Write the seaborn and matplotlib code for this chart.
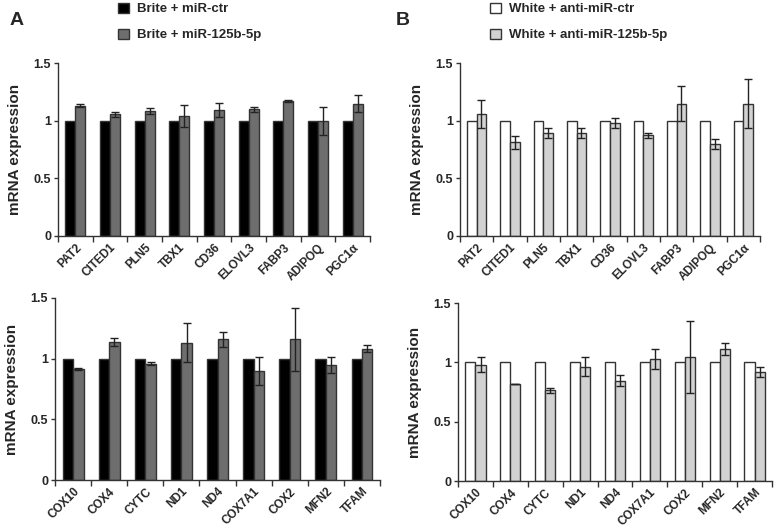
import numpy as np
import pandas as pd
import matplotlib
matplotlib.use("Agg")
import matplotlib.pyplot as plt
from matplotlib.patches import Patch
import seaborn as sns

# gene panels
genes_top = ["PAT2", "CITED1", "PLN5", "TBX1", "CD36", "ELOVL3", "FABP3", "ADIPOQ", "PGC1α"]
genes_bottom = ["COX10", "COX4", "CYTC", "ND1", "ND4", "COX7A1", "COX2", "MFN2", "TFAM"]

# A: brite adipocytes, miR-ctr vs miR-125b-5p
a_top_ctr = [1.0] * 9
a_top_mir = [1.13, 1.055, 1.087, 1.04, 1.093, 1.10, 1.17, 0.994, 1.148]
a_top_err = [0.013, 0.022, 0.025, 0.094, 0.058, 0.022, 0.012, 0.122, 0.074]
a_bot_ctr = [1.0] * 9
a_bot_mir = [0.915, 1.137, 0.959, 1.131, 1.158, 0.896, 1.158, 0.945, 1.082]
a_bot_err = [0.012, 0.036, 0.015, 0.16, 0.064, 0.115, 0.258, 0.067, 0.027]

# B: white adipocytes, anti-miR-ctr vs anti-miR-125b-5p
b_top_ctr = [1.0] * 9
b_top_mir = [1.055, 0.811, 0.895, 0.895, 0.98, 0.875, 1.148, 0.797, 1.148]
b_top_err = [0.122, 0.054, 0.045, 0.045, 0.04, 0.022, 0.15, 0.047, 0.21]
b_bot_ctr = [1.0] * 9
b_bot_mir = [0.98, 0.815, 0.765, 0.964, 0.846, 1.03, 1.045, 1.112, 0.919]
b_bot_err = [0.063, 0.0, 0.02, 0.08, 0.046, 0.083, 0.30, 0.049, 0.045]

labels_a = ["Brite + miR-ctr", "Brite + miR-125b-5p"]
labels_b = ["White + anti-miR-ctr", "White + anti-miR-125b-5p"]
colors_a = ["#000000", "#6e6e6e"]
colors_b = ["#ffffff", "#d2d2d2"]

sns.set_style("ticks")
plt.rcParams["font.family"] = ["Liberation Sans", "DejaVu Sans"]
plt.rcParams["font.weight"] = "bold"

fig = plt.figure(figsize=(7.75, 5.29), dpi=100)


def panel(rect, genes, ctr, mir, err, labels, colors):
    ax = fig.add_axes(rect)
    df = pd.DataFrame({
        "gene": genes * 2,
        "value": ctr + mir,
        "group": [labels[0]] * len(genes) + [labels[1]] * len(genes),
    })
    sns.barplot(data=df, x="gene", y="value", hue="group", palette=colors,
                width=0.58, gap=0, errorbar=None, edgecolor="#333333",
                linewidth=1.0, ax=ax, legend=False)
    # error bars only on the treated series
    bars = ax.containers[1]
    xs = [p.get_x() + p.get_width() / 2 for p in bars]
    ys = [p.get_height() for p in bars]
    ax.errorbar(xs, ys, yerr=err, fmt="none", ecolor="#222222",
                elinewidth=1.0, capsize=3, capthick=1.0)
    ax.set_ylim(0, 1.5)
    ax.set_xlim(-0.5, len(genes) - 0.5)
    ax.set_yticks([0, 0.5, 1, 1.5])
    ax.set_yticklabels(["0", "0.5", "1", "1.5"], fontsize=9, fontweight="bold")
    ax.set_xticks(range(len(genes)))
    ax.set_xticklabels(genes, rotation=45, ha="right", rotation_mode="anchor",
                       fontsize=8.5, fontweight="bold")
    ax.set_xticks(np.arange(-0.5, len(genes), 1), minor=True)
    ax.tick_params(axis="x", which="major", length=0, pad=4)
    ax.tick_params(axis="x", which="minor", length=4, width=1, color="#333333")
    ax.tick_params(axis="y", length=3, width=1, color="#333333", pad=2)
    ax.set_xlabel("")
    ax.set_ylabel("mRNA expression", fontsize=11, fontweight="bold", labelpad=8)
    for s in ["left", "bottom"]:
        ax.spines[s].set_color("#333333")
        ax.spines[s].set_linewidth(1.0)
    sns.despine(ax=ax)
    return ax


ax1 = panel([0.0748, 0.5539, 0.4026, 0.327], genes_top, a_top_ctr, a_top_mir, a_top_err, labels_a, colors_a)
ax2 = panel([0.071, 0.0926, 0.4194, 0.3441], genes_bottom, a_bot_ctr, a_bot_mir, a_bot_err, labels_a, colors_a)
ax3 = panel([0.5935, 0.5539, 0.3871, 0.327], genes_top, b_top_ctr, b_top_mir, b_top_err, labels_b, colors_b)
ax4 = panel([0.591, 0.0907, 0.4052, 0.3365], genes_bottom, b_bot_ctr, b_bot_mir, b_bot_err, labels_b, colors_b)

# legends above each column
for x0, labels, colors in [(0.145, labels_a, colors_a), (0.625, labels_b, colors_b)]:
    handles = [Patch(facecolor=c, edgecolor="#333333", linewidth=1.0) for c in colors]
    fig.legend(handles, labels, loc="upper left", bbox_to_anchor=(x0, 1.005),
               frameon=False, prop={"weight": "bold", "size": 9.5},
               handlelength=0.85, handleheight=0.85, handletextpad=0.6,
               labelspacing=1.0, borderaxespad=0)

fig.text(0.012, 0.978, "A", fontsize=14, fontweight="bold", va="top")
fig.text(0.511, 0.978, "B", fontsize=14, fontweight="bold", va="top")

fig.savefig("out.png", dpi=100)
